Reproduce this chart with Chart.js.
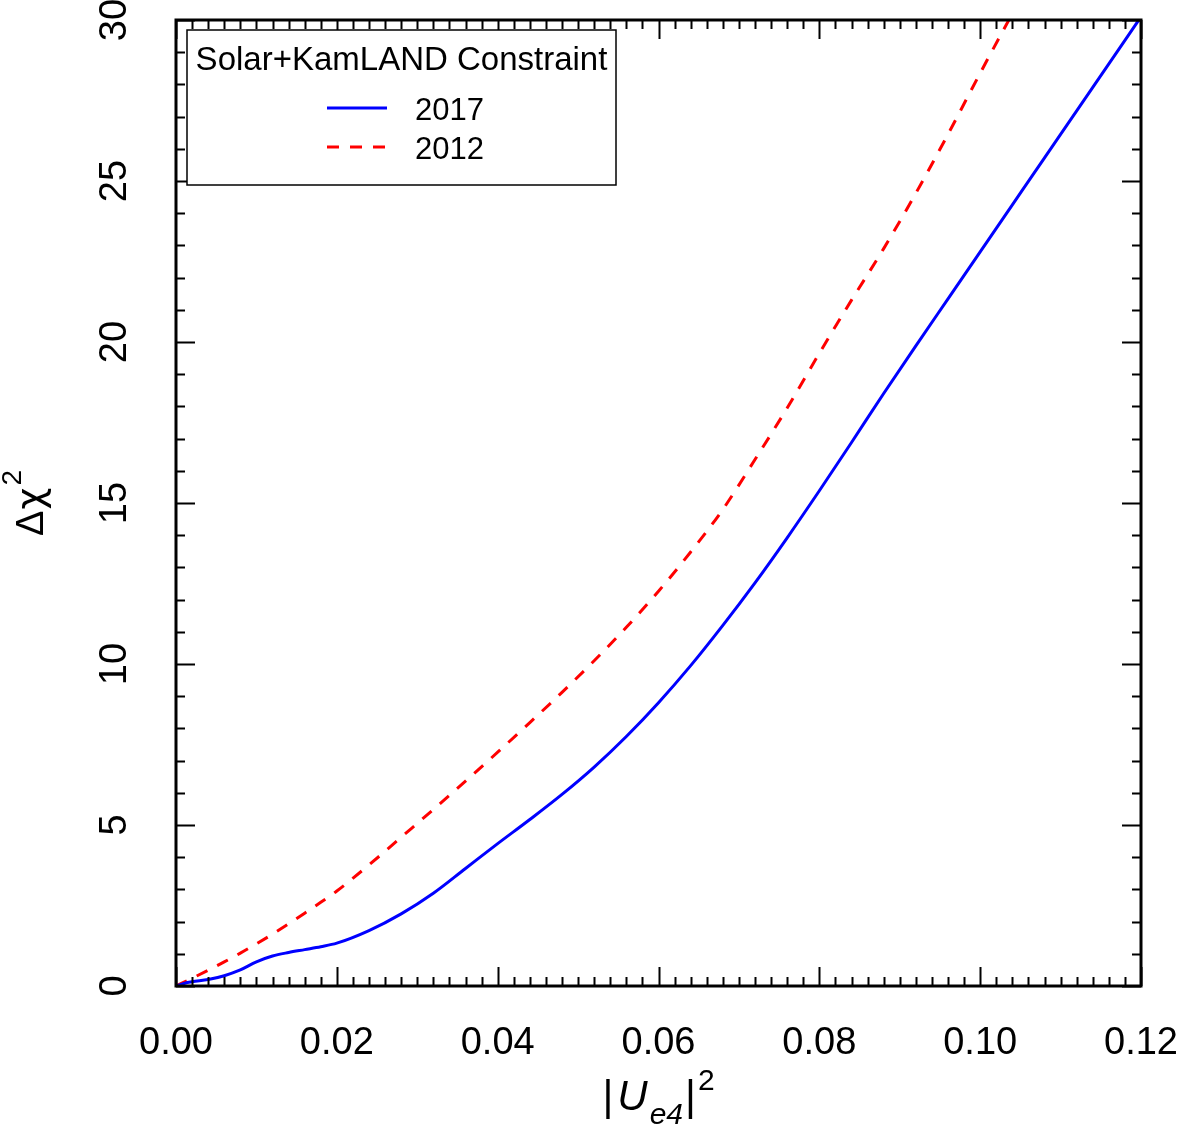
<!DOCTYPE html>
<html>
<head>
<meta charset="UTF-8" />
<title>Solar+KamLAND Constraint</title>
<script src="https://cdn.jsdelivr.net/npm/chart.js@4.4.1/dist/chart.umd.min.js"></script>
<style>
  html, body { margin: 0; padding: 0; background: #fff; }
  canvas { display: block; }
</style>
</head>
<body>
<canvas id="chart" width="1180" height="1136"></canvas>
<script>
// |U_e4|^2 vs Δχ^2
const x2017 = [0, 0.001, 0.002, 0.004, 0.006, 0.008, 0.010, 0.012, 0.014, 0.016, 0.018, 0.020, 0.024, 0.028, 0.032, 0.036, 0.040, 0.044, 0.048, 0.052, 0.056, 0.060, 0.064, 0.068, 0.072, 0.076, 0.080, 0.084, 0.088, 0.092, 0.096, 0.100, 0.104, 0.108, 0.112, 0.116, 0.120];
const chi2017 = [0, 0.08, 0.13, 0.2, 0.32, 0.5, 0.75, 0.93, 1.04, 1.13, 1.22, 1.33, 1.72, 2.24, 2.88, 3.65, 4.42, 5.17, 5.95, 6.8, 7.75, 8.8, 9.95, 11.2, 12.52, 13.92, 15.38, 16.88, 18.4, 19.88, 21.34, 22.8, 24.26, 25.72, 27.18, 28.64, 30.1];

const x2012 = [0, 0.002, 0.004, 0.006, 0.008, 0.010, 0.012, 0.014, 0.016, 0.018, 0.020, 0.024, 0.028, 0.032, 0.036, 0.040, 0.044, 0.048, 0.052, 0.056, 0.060, 0.064, 0.068, 0.072, 0.076, 0.080, 0.084, 0.088, 0.092, 0.096, 0.100, 0.104];
const chi2012 = [0, 0.24, 0.49, 0.75, 1.02, 1.31, 1.61, 1.93, 2.26, 2.6, 2.95, 3.76, 4.62, 5.48, 6.36, 7.26, 8.18, 9.12, 10.1, 11.14, 12.26, 13.48, 14.8, 16.35, 17.95, 19.65, 21.3, 22.9, 24.62, 26.45, 28.35, 30.2];

const xTicks = [0, 0.02, 0.04, 0.06, 0.08, 0.10, 0.12];
const yTicks = [0, 5, 10, 15, 20, 25, 30];
const legendTitle = "Solar+KamLAND Constraint";

const FONT = '"Liberation Sans", Arial, Helvetica, sans-serif';

function pts(xs, ys) { return xs.map((x, i) => ({ x: x, y: ys[i] })); }

// inward ticks on all four sides + frame
const frameTicks = {
  id: "frameTicks",
  afterDatasetsDraw(chart) {
    const { ctx, chartArea: a, scales } = chart;
    const xs = scales.x, ys = scales.y;
    ctx.save();
    ctx.strokeStyle = "#000";
    ctx.lineWidth = 2;
    ctx.beginPath();
    for (let k = 0; k <= 60; k++) {
      const px = Math.round(xs.getPixelForValue(k * 0.002)) + 0.5;
      const len = k % 10 === 0 ? 19 : 9;
      ctx.moveTo(px, a.bottom); ctx.lineTo(px, a.bottom - len);
      ctx.moveTo(px, a.top); ctx.lineTo(px, a.top + len);
    }
    for (let k = 0; k <= 30; k++) {
      const py = Math.round(ys.getPixelForValue(k)) + 0.5;
      const len = k % 5 === 0 ? 19 : 9;
      ctx.moveTo(a.left, py); ctx.lineTo(a.left + len, py);
      ctx.moveTo(a.right, py); ctx.lineTo(a.right - len, py);
    }
    ctx.stroke();
    ctx.lineWidth = 3;
    ctx.strokeRect(a.left, a.top, a.right - a.left, a.bottom - a.top);
    ctx.restore();
  }
};

// legend box in the upper left corner of the plot
const boxLegend = {
  id: "boxLegend",
  afterDraw(chart) {
    const { ctx, chartArea: a } = chart;
    const left = a.left + 11, top = a.top + 10, w = 429, h = 155;
    ctx.save();
    ctx.fillStyle = "#fff";
    ctx.fillRect(left, top, w, h);
    ctx.strokeStyle = "#000";
    ctx.lineWidth = 1.5;
    ctx.strokeRect(left, top, w, h);
    ctx.fillStyle = "#000";
    ctx.font = "33px " + FONT;
    ctx.textAlign = "center";
    ctx.textBaseline = "alphabetic";
    ctx.fillText(legendTitle, left + w / 2, top + 40);
    ctx.textAlign = "left";
    ctx.font = "31px " + FONT;
    chart.data.datasets.forEach((ds, i) => {
      const y = top + 78 + i * 39;
      ctx.strokeStyle = ds.borderColor;
      ctx.lineWidth = ds.borderWidth;
      ctx.setLineDash(ds.borderDash || []);
      ctx.beginPath();
      ctx.moveTo(left + 140, y);
      ctx.lineTo(left + 200, y);
      ctx.stroke();
      ctx.setLineDash([]);
      ctx.fillText(ds.label, left + 228, y + 12);
    });
    ctx.restore();
  }
};

// axis titles with sub/superscripts
const axisTitles = {
  id: "axisTitles",
  afterDraw(chart) {
    const { ctx, chartArea: a } = chart;
    ctx.save();
    ctx.fillStyle = "#000";
    ctx.textBaseline = "alphabetic";
    ctx.textAlign = "left";

    // x title: |U_e4|^2
    const parts = [
      { t: "|", f: "42px " + FONT, dy: 0, gap: 4 },
      { t: "U", f: "italic 42px " + FONT, dy: 0, gap: 2 },
      { t: "e4", f: "italic 30px " + FONT, dy: 14, gap: 2 },
      { t: "|", f: "42px " + FONT, dy: 0, gap: 2 },
      { t: "2", f: "30px " + FONT, dy: -20, gap: 0 },
    ];
    let total = 0;
    parts.forEach((p) => { ctx.font = p.f; p.w = ctx.measureText(p.t).width; total += p.w + p.gap; });
    let x = (a.left + a.right) / 2 - total / 2;
    const base = 1110;
    parts.forEach((p) => { ctx.font = p.f; ctx.fillText(p.t, x, base + p.dy); x += p.w + p.gap; });

    // y title: Δχ^2, rotated
    const yparts = [
      { t: "Δ", f: "38px " + FONT, dy: 0, gap: 1 },
      { t: "χ", f: "38px \"DejaVu Sans\", sans-serif", dy: 0, gap: 2 },
      { t: "2", f: "28px " + FONT, dy: -22, gap: 0 },
    ];
    let ytotal = 0;
    yparts.forEach((p) => { ctx.font = p.f; p.w = ctx.measureText(p.t).width; ytotal += p.w + p.gap; });
    const cy = (a.top + a.bottom) / 2;
    ctx.translate(43, cy + ytotal / 2);
    ctx.rotate(-Math.PI / 2);
    let yx = 0;
    yparts.forEach((p) => { ctx.font = p.f; ctx.fillText(p.t, yx, p.dy); yx += p.w + p.gap; });
    ctx.restore();
  }
};

new Chart(document.getElementById("chart"), {
  type: "line",
  data: {
    datasets: [
      { label: "2017", data: pts(x2017, chi2017), borderColor: "#0000ff", borderWidth: 3, pointRadius: 0, fill: false, cubicInterpolationMode: "monotone" },
      { label: "2012", data: pts(x2012, chi2012), borderColor: "#ff0000", borderWidth: 3, borderDash: [12, 11], pointRadius: 0, fill: false, cubicInterpolationMode: "monotone" },
    ],
  },
  options: {
    responsive: false,
    animation: false,
    layout: { padding: { top: 20, right: 39, bottom: 0, left: 0 } },
    plugins: { legend: { display: false }, tooltip: { enabled: false } },
    scales: {
      x: {
        type: "linear", min: 0, max: 0.12,
        grid: { display: false, drawTicks: false },
        border: { display: false },
        afterFit: (s) => { s.height = 150; s.paddingLeft = 0; s.paddingRight = 0; s.paddingTop = 0; s.paddingBottom = 0; },
        afterBuildTicks: (s) => { s.ticks = xTicks.map((v) => ({ value: v })); },
        ticks: { padding: 35, maxRotation: 0, color: "#000", font: { family: FONT, size: 38 }, callback: (v) => Number(v).toFixed(2) },
      },
      y: {
        type: "linear", min: 0, max: 30,
        grid: { display: false, drawTicks: false },
        border: { display: false },
        afterFit: (s) => { s.width = 176; s.paddingLeft = 0; s.paddingRight = 0; s.paddingTop = 0; s.paddingBottom = 0; },
        afterBuildTicks: (s) => { s.ticks = yTicks.map((v) => ({ value: v })); },
        ticks: { padding: 39, minRotation: 90, maxRotation: 90, crossAlign: "center", autoSkip: false, color: "#000", font: { family: FONT, size: 38 }, callback: (v) => String(v) },
      },
    },
  },
  plugins: [frameTicks, boxLegend, axisTitles],
});
</script>
</body>
</html>
